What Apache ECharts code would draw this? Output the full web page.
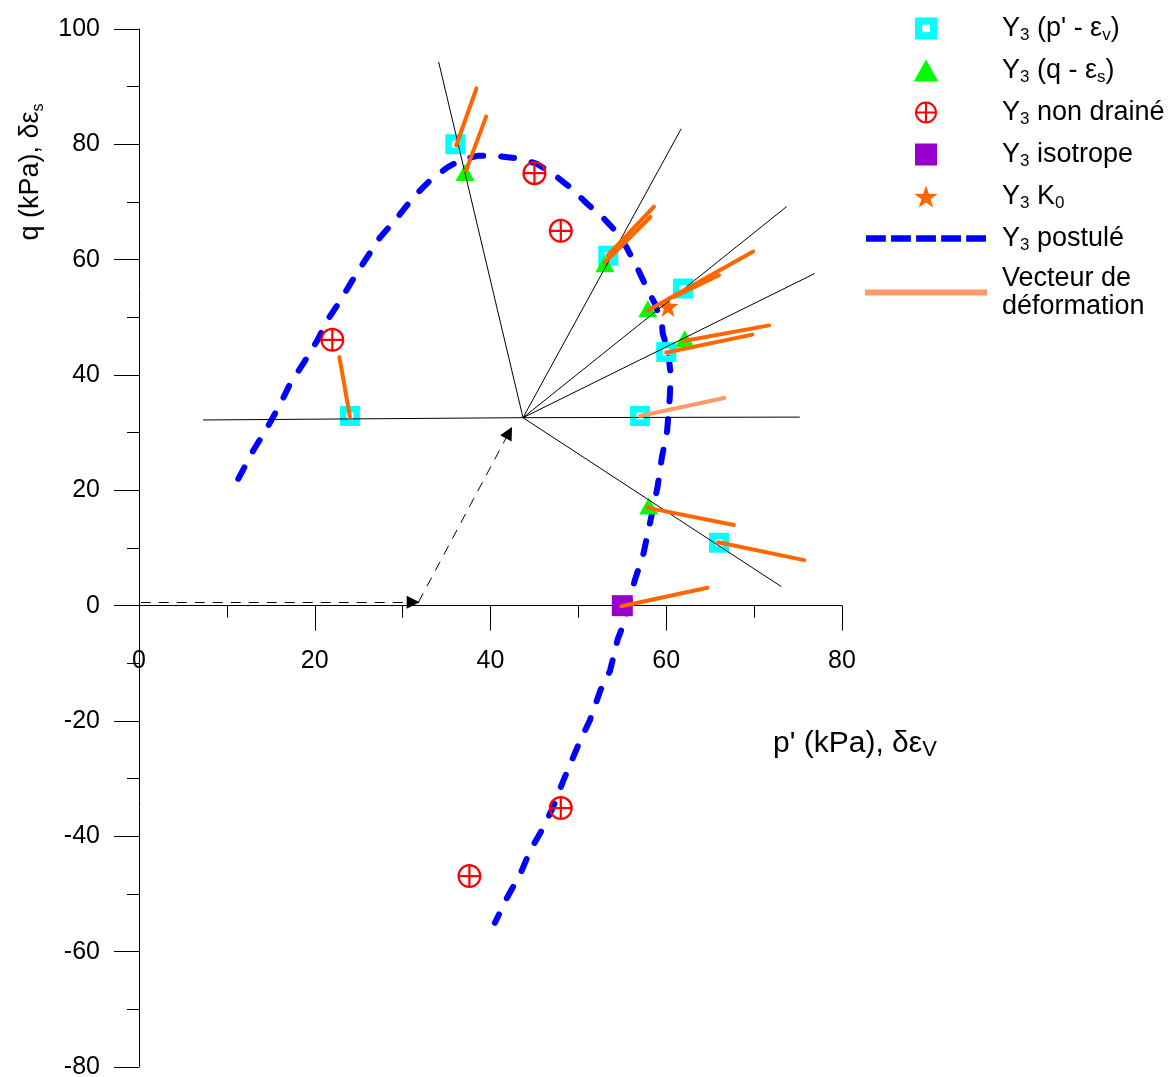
<!DOCTYPE html>
<html><head><meta charset="utf-8">
<script src="https://cdn.jsdelivr.net/npm/echarts@6/dist/echarts.min.js"></script>
<style>html,body{margin:0;padding:0;background:#fff}#c{width:1174px;height:1077px}</style>
</head><body><div id="c"></div>
<script>
// ---- data ----
const xTicks = [0, 20, 40, 60, 80];
const yTicks = [-80, -60, -40, -20, 0, 20, 40, 60, 80, 100];
const seriesNames = ["Y3 (p' - εv)", "Y3 (q - εs)", "Y3 non drainé", "Y3 isotrope", "Y3 K0", "Y3 postulé", "Vecteur de déformation"];

const pvPoints = [[36.0,80.0],[53.4,60.7],[61.9,55.0],[60.0,44.0],[57.0,32.9],[66.0,10.9],[24.0,32.9]];
const qsPoints = [[37.1,75.1],[53.0,59.3],[57.9,51.5],[62.1,46.3],[58.0,17.3]];
const undrainedPoints = [[45.0,75.0],[48.0,65.0],[22.0,46.1],[48.0,-35.1],[37.6,-46.9]];
const isotropePoints = [[55.0,0.0]];
const k0Points = [[60.2,51.9]];
const postulePoints = [
  [11.3,22.0],[13.0,26.9],[14.6,30.9],[16.1,35.0],[17.2,38.5],[18.7,42.0],[20.3,46.0],[21.4,49.4],
  [22.9,52.9],[24.8,57.7],[27.4,63.8],[29.4,67.3],[31.2,70.8],[33.1,73.7],[35.1,76.0],[36.5,77.2],
  [38.5,78.0],[40.7,78.0],[43.4,77.5],[45.3,76.6],[47.1,74.9],[49.1,72.5],[51.0,69.7],[52.8,67.3],
  [54.2,65.0],[55.5,62.1],[56.7,58.6],[57.8,55.0],[58.7,52.4],[59.5,48.9],[59.6,47.2],[60.2,44.2],
  [60.5,40.2],[60.4,36.1],[60.1,30.3],[59.5,25.7],[59.0,20.5],[58.2,14.7],[57.4,9.0],[56.4,4.3],
  [55.3,-2.6],[54.5,-5.7],[53.6,-11.3],[52.5,-14.7],[51.3,-19.9],[50.2,-23.4],[49.1,-27.4],[48.3,-30.3],
  [47.1,-35.0],[46.0,-38.5],[44.5,-42.5],[43.4,-46.5],[41.9,-50.6],[40.5,-55.0]
];
const vectorsDark = [
  [[36.1,79.8],[38.4,89.7]], [[37.2,75.4],[39.5,84.8]], [[53.3,60.7],[58.6,69.2]], [[53.0,59.5],[58.2,67.4]],
  [[57.9,51.2],[69.9,61.4]], [[60.8,53.5],[66.0,57.3]], [[62.0,45.9],[71.7,48.6]], [[60.0,43.9],[69.8,47.0]],
  [[57.8,17.0],[67.7,14.0]], [[65.9,11.0],[75.7,7.9]], [[54.9,-0.1],[64.7,3.1]], [[22.8,43.1],[24.0,32.8]]
];
const vectorsLight = [[[57.0,32.9],[66.6,36.0]]];
const radialLines = [
  [[7.3,32.2],[43.7,32.6]], [[43.7,32.6],[34.1,94.3]], [[43.7,32.6],[61.7,82.7]], [[43.7,32.6],[73.7,69.2]],
  [[43.7,32.6],[76.9,57.6]], [[43.7,32.6],[75.2,32.7]], [[43.7,32.6],[73.1,3.3]]
];
const arrowPaths = [[[0.2,0.6],[31.2,0.6]], [[31.8,0.6],[42.1,30.0]]];

// ---- style ----
const FONT = "'Liberation Sans', Arial, sans-serif";
const CYAN_SQ = 'path://M0,0H20V20H0Z M6.5,6.5V13.5H13.5V6.5Z';
const CROSS_CIRCLE = 'path://M0,12A12,12 0 1,1 24,12A12,12 0 1,1 0,12Z M2.2,12A9.8,9.8 0 1,0 21.8,12A9.8,9.8 0 1,0 2.2,12Z M10.9,0.5H13.1V23.5H10.9Z M0.5,10.9H23.5V13.1H0.5Z';
const STAR = 'path://M10,0L12.35,6.76L19.51,6.91L13.8,11.24L15.88,18.09L10,14L4.12,18.09L6.2,11.24L0.49,6.91L7.65,6.76Z';
const TRI = 'path://M10,0L20,18H0Z';
const SQUARE = 'path://M0,0H20V20H0Z';
const DASH_ICON = 'path://M0,0H19V6H0Z M24,0H43V6H24Z M48,0H67V6H48Z M72,0H91V6H72Z M96,0H115V6H96Z';

const legendText = {
  "Y3 (p' - εv)": "{m|Y}{s|3}{m| (p' - ε}{s|v}{m|)}",
  "Y3 (q - εs)": "{m|Y}{s|3}{m| (q - ε}{s|s}{m|)}",
  "Y3 non drainé": "{m|Y}{s|3}{m| non drainé}",
  "Y3 isotrope": "{m|Y}{s|3}{m| isotrope}",
  "Y3 K0": "{m|Y}{s|3}{m| K}{s|0}",
  "Y3 postulé": "{m|Y}{s|3}{m| postulé}",
  "Vecteur de déformation": "{m|Vecteur de}\n{m|déformation}"
};

const GRID_TOP = 29, GRID_BOTTOM = 10, H = 1077;
const plotH = H - GRID_TOP - GRID_BOTTOM;
const zeroOffset = -plotH * (0 - yTicks[0]) / (yTicks[yTicks.length - 1] - yTicks[0]);

const chart = echarts.init(document.getElementById('c'), null, {renderer: 'canvas'});
const axisCommon = {
  type: 'value',
  splitLine: {show: false},
  axisTick: {show: true, inside: false, length: 25, lineStyle: {color: '#000', width: 1}},
  minorTick: {show: true, splitNumber: 2, length: 12, lineStyle: {color: '#000', width: 1}},
  minorSplitLine: {show: false}
};
chart.setOption({
  animation: false,
  backgroundColor: '#fff',
  grid: {left: 139, right: 332, top: GRID_TOP, bottom: GRID_BOTTOM, containLabel: false, outerBoundsMode: 'none'},
  xAxis: Object.assign({}, axisCommon, {
    position: 'bottom', offset: zeroOffset,
    min: xTicks[0], max: xTicks[xTicks.length - 1], interval: 20,
    axisLine: {show: true, onZero: false, lineStyle: {color: '#000', width: 1}},
    axisLabel: {show: true, margin: 43, fontSize: 25, color: '#000', fontFamily: FONT, showMinLabel: true, showMaxLabel: true}
  }),
  yAxis: Object.assign({}, axisCommon, {
    min: yTicks[0], max: yTicks[yTicks.length - 1], interval: 20,
    axisLine: {show: true, onZero: false, lineStyle: {color: '#000', width: 1}},
    axisLabel: {show: true, margin: 39, fontSize: 25, color: '#000', fontFamily: FONT, showMinLabel: true, showMaxLabel: true}
  }),
  legend: {
    orient: 'vertical', left: 860, top: 8, itemWidth: 120, itemHeight: 22, itemGap: 11,
    selectedMode: false, symbolKeepAspect: true,
    data: [
      {name: seriesNames[0], icon: CYAN_SQ},
      {name: seriesNames[1], icon: TRI},
      {name: seriesNames[2], icon: CROSS_CIRCLE},
      {name: seriesNames[3], icon: SQUARE},
      {name: seriesNames[4], icon: STAR},
      {name: seriesNames[5], icon: DASH_ICON, itemStyle: {color: '#0000FF'}},
      {name: seriesNames[6], icon: 'path://M0,0H120V4H0Z'}
    ],
    formatter: n => legendText[n] || n,
    textStyle: {
      padding: [0, 0, 0, 11],
      rich: {
        m: {fontSize: 27, fontFamily: FONT, color: '#000', lineHeight: 28},
        s: {fontSize: 17, fontFamily: FONT, color: '#000', lineHeight: 14, padding: [14, 0, 0, 0]}
      }
    }
  },
  graphic: [
    {type: 'text', x: 31, y: 172, rotation: Math.PI / 2, z: 100,
      style: {text: '{m|q (kPa), δε}{s|s}', align: 'center', verticalAlign: 'middle',
        rich: {m: {fontSize: 27, fontFamily: FONT, fill: '#000', lineHeight: 30},
               s: {fontSize: 16, fontFamily: FONT, fill: '#000', lineHeight: 14, padding: [16, 0, 0, 0]}}}},
    {type: 'text', x: 773, y: 744, z: 100,
      style: {text: "{m|p' (kPa), δε}{s|V}", align: 'left', verticalAlign: 'middle',
        rich: {m: {fontSize: 30, fontFamily: FONT, fill: '#000', lineHeight: 32},
               s: {fontSize: 22, fontFamily: FONT, fill: '#000', lineHeight: 20, padding: [11, 0, 0, 0]}}}}
  ],
  series: [
    {name: seriesNames[5], type: 'line', data: postulePoints, showSymbol: false, symbol: 'none', z: 2,
      color: '#0000FF',
      lineStyle: {color: '#0000FF', width: 6, type: [13, 18], cap: 'round'}},
    {name: seriesNames[0], type: 'scatter', data: pvPoints, symbol: CYAN_SQ, symbolSize: 20, z: 3,
      itemStyle: {color: '#00FFFF', opacity: 1}},
    {name: seriesNames[1], type: 'scatter', data: qsPoints, symbol: TRI, symbolSize: [19, 17], z: 3,
      itemStyle: {color: '#00FF00', opacity: 1}},
    {name: seriesNames[2], type: 'scatter', data: undrainedPoints, symbol: CROSS_CIRCLE, symbolSize: 24, z: 3,
      itemStyle: {color: '#FF0000', opacity: 1}},
    {name: seriesNames[3], type: 'scatter', data: isotropePoints, symbol: SQUARE, symbolSize: 21, z: 3,
      itemStyle: {color: '#9900CC', opacity: 1}},
    {name: seriesNames[4], type: 'scatter', data: k0Points, symbol: STAR, symbolSize: 21, z: 3,
      itemStyle: {color: '#FF6600', opacity: 1}},
    {name: 'radial', type: 'lines', coordinateSystem: 'cartesian2d', z: 4, silent: true,
      data: radialLines.map(c => ({coords: c})),
      lineStyle: {color: '#000', width: 1, opacity: 1}},
    {name: 'arrows', type: 'lines', coordinateSystem: 'cartesian2d', z: 4, silent: true,
      symbol: ['none', 'triangle'], symbolSize: [13, 13],
      data: arrowPaths.map(c => ({coords: c})),
      itemStyle: {color: '#000'},
      lineStyle: {color: '#000', width: 1, type: [10, 8], opacity: 1}},
    {name: 'vecteursSombres', type: 'lines', coordinateSystem: 'cartesian2d', z: 5, silent: true,
      data: vectorsDark.map(c => ({coords: c})),
      lineStyle: {color: '#FF6600', width: 4, opacity: 1, cap: 'round'}},
    {name: seriesNames[6], type: 'lines', coordinateSystem: 'cartesian2d', z: 5, silent: true,
      color: '#FF9966',
      data: vectorsLight.map(c => ({coords: c})),
      itemStyle: {color: '#FF9966'},
      lineStyle: {color: '#FF9966', width: 4, opacity: 1, cap: 'round'}}
  ]
});
</script></body></html>
